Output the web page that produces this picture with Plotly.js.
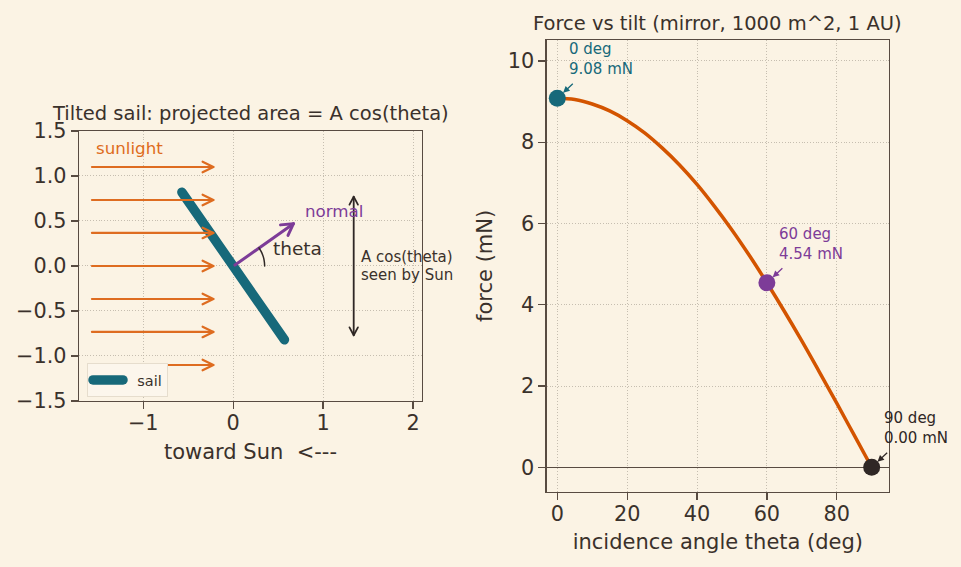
<!DOCTYPE html>
<html><head><meta charset="utf-8">
<script src="https://cdn.plot.ly/plotly-3.0.1.min.js"></script>
<style>
html,body{margin:0;padding:0;background:#fbf3e4;}
#chart{width:961px;height:567px;}
.js-line{stroke-linecap:round !important;stroke-linejoin:round !important;}
</style></head><body><div id="chart"></div>
<script>
// ---------- left panel: geometry ----------
const sunY = [1.1, 0.733, 0.367, 0.0, -0.367, -0.733, -1.1];
const sunStartX = [-1.57, -1.57, -1.57, -1.57, -1.57, -1.57, -1.57];
const sunEndX = [-0.22, -0.22, -0.22, -0.22, -0.22, -0.22, -0.22];
const sailX = [-0.57, 0.57];
const sailY = [0.82, -0.82];
const normalX = [0.02, 0.67];
const normalY = [0.01, 0.47];
const spanX = [1.34, 1.34];
const spanY = [-0.77, 0.77];
const arcX = [0.35, 0.347, 0.340, 0.327, 0.309, 0.287];
const arcY = [0.0, 0.043, 0.085, 0.125, 0.164, 0.201];
const spanLines = ['A cos(theta)', 'seen by Sun'];
const leftXTicks = [-1, 0, 1, 2];
const leftYTicks = [-1.5, -1.0, -0.5, 0.0, 0.5, 1.0, 1.5];

// ---------- right panel: force vs tilt ----------
const thetaDeg = [0, 5, 10, 15, 20, 25, 30, 35, 40, 45, 50, 55, 60, 65, 70, 75, 80, 85, 90];
const forceMN = [9.08, 9.05, 8.94, 8.77, 8.53, 8.23, 7.86, 7.44, 6.96, 6.42, 5.84, 5.21, 4.54, 3.84, 3.11, 2.35, 1.58, 0.79, 0.00];
const markTheta = [0, 60, 90];
const markForce = [9.08, 4.54, 0.00];
const markLabels = ["0 deg<br>9.08 mN", "60 deg<br>4.54 mN", "90 deg<br>0.00 mN"];
const rightXTicks = [0, 20, 40, 60, 80];
const rightYTicks = [0, 2, 4, 6, 8, 10];

// ---------- style ----------
const BG = '#fbf3e4', TXT = '#3a312b', FRAME = '#584b41', GRID = '#b9b0a2';
const TEAL = '#17697a', PURPLE = '#7d3c98', DARK = '#2f2725', ORANGE = '#d35400', SUN = '#de6c20';
const FONT = 'DejaVu Sans, Verdana, sans-serif';
const PXU = 90; // pixels per data unit in the left (equal-aspect) panel

function head(xt, yt, xf, yf, lenPx, halfDeg) {
  const dx = xt - xf, dy = yt - yf, d = Math.hypot(dx, dy);
  const bx = -dx / d, by = -dy / d, L = lenPx / PXU, a = halfDeg * Math.PI / 180;
  const c = Math.cos(a), s = Math.sin(a);
  return {
    x: [xt + L * (bx * c - by * s), xt, xt + L * (bx * c + by * s)],
    y: [yt + L * (bx * s + by * c), yt, yt + L * (-bx * s + by * c)]
  };
}
function arrowPath(x0, y0, x1, y1, lenPx, halfDeg, both) {
  let X = [x0, x1, null], Y = [y0, y1, null];
  const h = head(x1, y1, x0, y0, lenPx, halfDeg);
  X = X.concat(h.x, [null]); Y = Y.concat(h.y, [null]);
  if (both) {
    const h2 = head(x0, y0, x1, y1, lenPx, halfDeg);
    X = X.concat(h2.x, [null]); Y = Y.concat(h2.y, [null]);
  }
  return {x: X, y: Y};
}

let sunXs = [], sunYs = [];
sunY.forEach((y, i) => {
  const p = arrowPath(sunStartX[i], y, sunEndX[i], y, 12, 26, false);
  sunXs = sunXs.concat(p.x); sunYs = sunYs.concat(p.y);
});
const nrm = arrowPath(normalX[0], normalY[0], normalX[1], normalY[1], 13, 30, false);
const spn = arrowPath(spanX[0], spanY[0], spanX[1], spanY[1], 9, 28, true);

const traces = [
  {x: sailX, y: sailY, mode: 'lines', name: '&nbsp;&nbsp;sail', line: {color: TEAL, width: 9.5},
   xaxis: 'x', yaxis: 'y', showlegend: true, hoverinfo: 'skip'},
  {x: sunXs, y: sunYs, mode: 'lines', line: {color: SUN, width: 2.2}, xaxis: 'x', yaxis: 'y',
   showlegend: false, hoverinfo: 'skip'},
  {x: nrm.x, y: nrm.y, mode: 'lines', line: {color: PURPLE, width: 3}, xaxis: 'x', yaxis: 'y',
   showlegend: false, hoverinfo: 'skip'},
  {x: arcX, y: arcY, mode: 'lines', line: {color: DARK, width: 1.5, shape: 'spline'}, xaxis: 'x', yaxis: 'y',
   showlegend: false, hoverinfo: 'skip'},
  {x: spn.x, y: spn.y, mode: 'lines', line: {color: DARK, width: 1.8}, xaxis: 'x', yaxis: 'y',
   showlegend: false, hoverinfo: 'skip'},
  {x: thetaDeg, y: forceMN, mode: 'lines', line: {color: ORANGE, width: 3.5, shape: 'spline'},
   xaxis: 'x2', yaxis: 'y2', showlegend: false},
  {x: markTheta, y: markForce, mode: 'markers', marker: {size: 17, color: [TEAL, PURPLE, DARK]},
   xaxis: 'x2', yaxis: 'y2', showlegend: false}
];

const markColors = [TEAL, PURPLE, DARK];
const anns = [
  {text: 'Tilted sail: projected area = A cos(theta)', xref: 'paper', yref: 'paper', x: 0.2607, y: 0.8002,
   xanchor: 'center', yanchor: 'middle', showarrow: false, font: {size: 19.5, color: TXT}},
  {text: 'Force vs tilt (mirror, 1000 m^2, 1 AU)', xref: 'paper', yref: 'paper', x: 0.7463, y: 0.9586,
   xanchor: 'center', yanchor: 'middle', showarrow: false, font: {size: 19.5, color: TXT}},
  {text: 'sunlight', xref: 'x', yref: 'y', x: -1.55, y: 1.31, xanchor: 'left', yanchor: 'middle',
   showarrow: false, font: {size: 16.7, color: SUN}},
  {text: 'normal', xref: 'x', yref: 'y', x: 0.775, y: 0.61, xanchor: 'left', yanchor: 'middle',
   showarrow: false, font: {size: 16.7, color: PURPLE}},
  {text: 'theta', xref: 'x', yref: 'y', x: 0.425, y: 0.19, xanchor: 'left', yanchor: 'middle',
   showarrow: false, font: {size: 18.5, color: TXT}}
];
spanLines.forEach((t, i) => {
  anns.push({text: t, xref: 'x', yref: 'y', x: 1.395, y: 0.0, xanchor: 'left', yanchor: 'middle',
    yshift: i === 0 ? 8.8 : -8.8, showarrow: false, font: {size: 15, color: TXT}});
});
markTheta.forEach((t, i) => {
  anns.push({text: markLabels[i], xref: 'x2', yref: 'y2', x: t, y: markForce[i], xanchor: 'left', yanchor: 'middle',
    align: 'left', xshift: 10, yshift: 39, showarrow: false, font: {size: 15, color: markColors[i]}});
  anns.push({text: '', xref: 'x2', yref: 'y2', x: t, y: markForce[i], showarrow: true, ax: 17, ay: -16,
    arrowcolor: markColors[i], arrowwidth: 1.3, arrowhead: 2, arrowsize: 1, standoff: 8});
});

const axisCommon = {
  showline: true, mirror: true, linecolor: FRAME, linewidth: 1.3,
  ticks: 'outside', ticklen: 7, tickwidth: 1.3, tickcolor: FRAME,
  showgrid: true, gridcolor: GRID, gridwidth: 0.8, griddash: '1px,1.8px', zeroline: false,
  tickfont: {size: 20.8, color: TXT}
};

const layout = {
  width: 961, height: 567, paper_bgcolor: BG, plot_bgcolor: BG,
  margin: {l: 0, r: 0, t: 0, b: 0},
  font: {family: FONT, color: TXT},
  showlegend: true,
  legend: {x: 87 / 961, y: 1 - 380 / 567, xanchor: 'left', yanchor: 'middle', bgcolor: '#fcf6ec',
    bordercolor: '#e6ddcd', borderwidth: 1, font: {size: 14.5, color: TXT}},
  xaxis: Object.assign({}, axisCommon, {domain: [0.0822, 0.4391], range: [-1.714, 2.099], tickvals: leftXTicks,
    anchor: 'y', ticklabelstandoff: -4,
    title: {text: 'toward Sun&nbsp; &lt;---', font: {size: 21, color: TXT}, standoff: 10}}),
  yaxis: Object.assign({}, axisCommon, {domain: [0.2928, 0.7690], range: [-1.5, 1.5], tickvals: leftYTicks,
    tickformat: '.1f', anchor: 'x', ticklabelstandoff: 0}),
  xaxis2: Object.assign({}, axisCommon, {domain: [0.5689, 0.9251], range: [-3.03, 94.97], tickvals: rightXTicks,
    anchor: 'y2', ticklabelstandoff: -4,
    title: {text: 'incidence angle theta (deg)', font: {size: 21, color: TXT}, standoff: 9}}),
  yaxis2: Object.assign({}, axisCommon, {domain: [0.1325, 0.9298], range: [-0.605, 10.52], tickvals: rightYTicks,
    anchor: 'x2', zeroline: true, zerolinecolor: FRAME, zerolinewidth: 1.3, ticklabelstandoff: 0,
    title: {text: 'force (mN)', font: {size: 21, color: TXT}, standoff: 9}}),
  annotations: anns
};

Plotly.newPlot('chart', traces, layout, {displayModeBar: false, staticPlot: true});
</script></body></html>
